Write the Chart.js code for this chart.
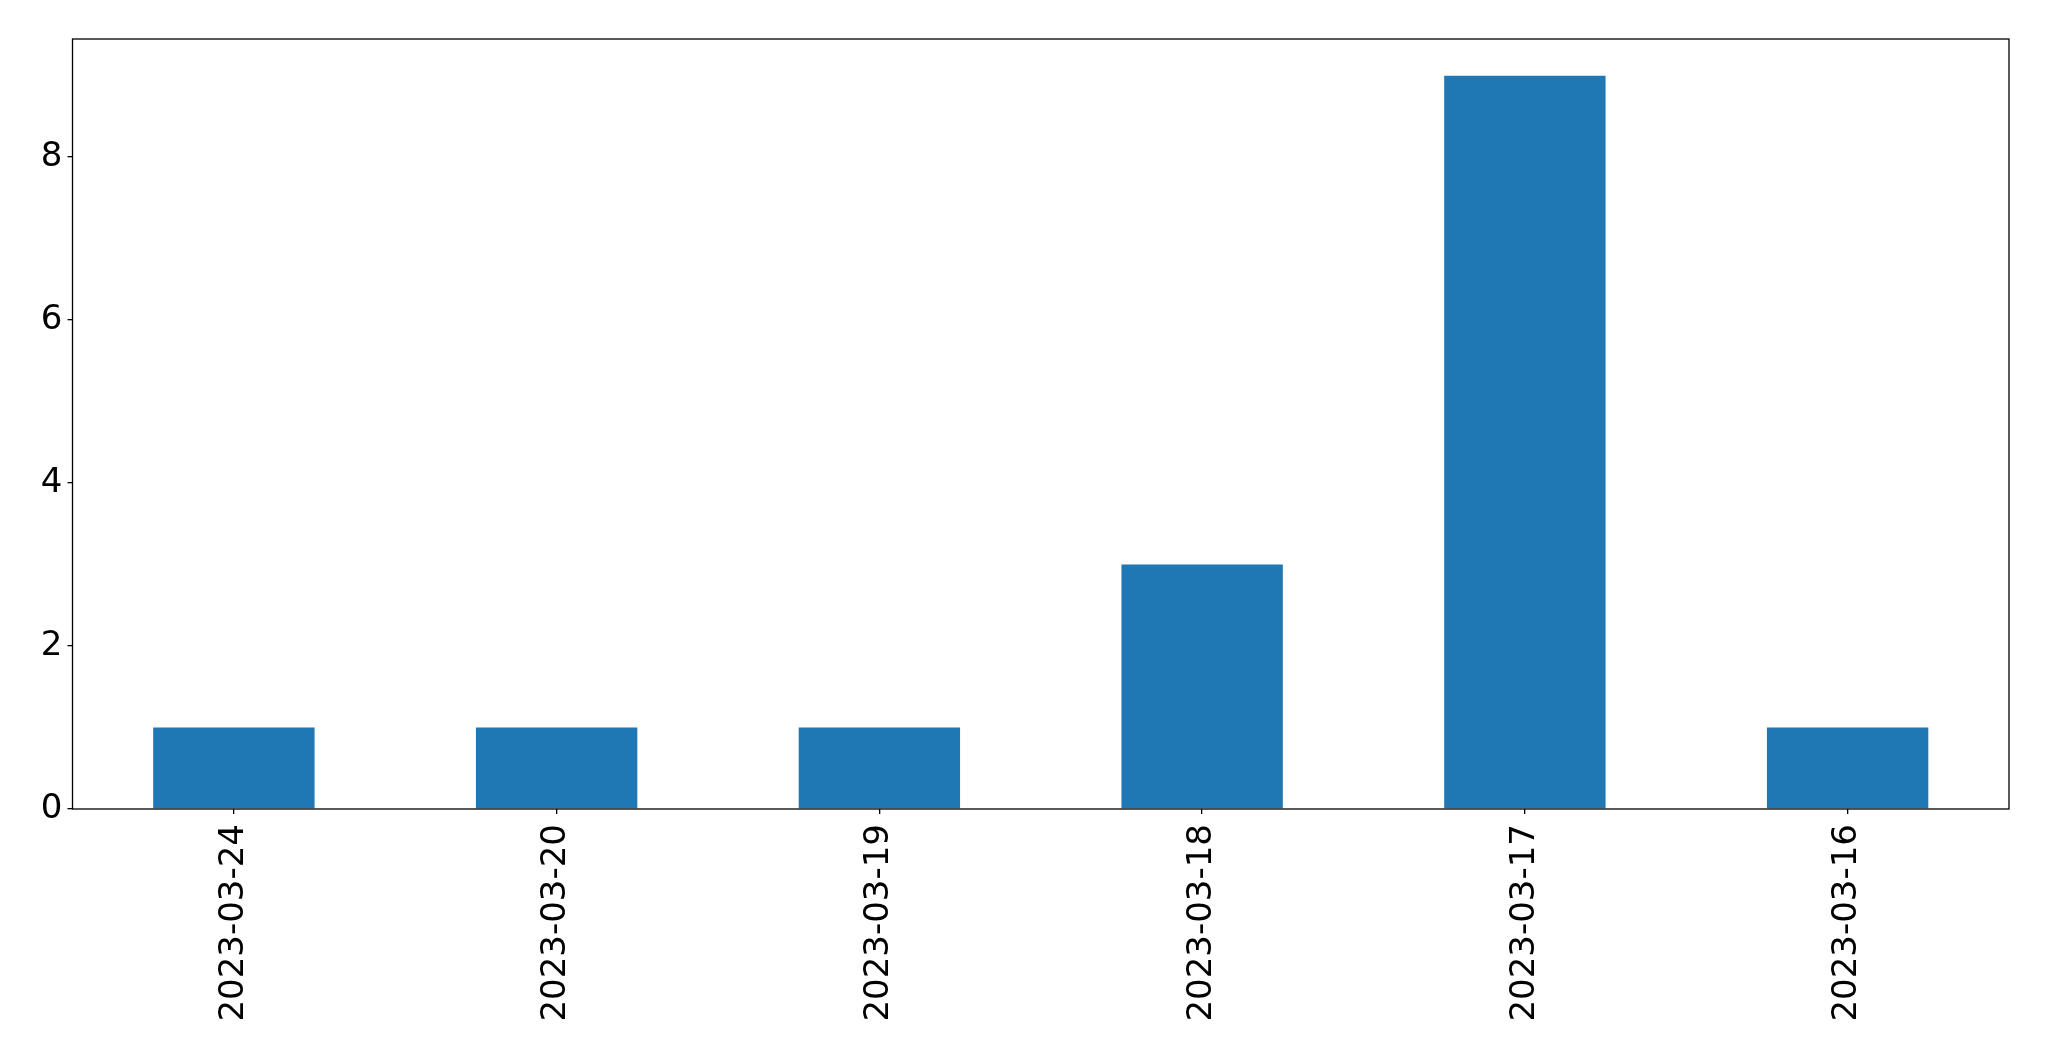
<!DOCTYPE html>
<html>
<head>
<meta charset="utf-8">
<script src="https://cdn.jsdelivr.net/npm/chart.js@4/dist/chart.umd.min.js"></script>
<style>
  html, body { margin: 0; padding: 0; background: #fff; }
  #wrap { width: 2049px; height: 1061px; }
</style>
</head>
<body>
<div id="wrap"><canvas id="chart" width="2049" height="1061"></canvas></div>
<script>
const dates = ['2023-03-24', '2023-03-20', '2023-03-19', '2023-03-18', '2023-03-17', '2023-03-16'];
const counts = [1, 1, 1, 3, 9, 1];
const yTicks = [0, 2, 4, 6, 8];

// frame around the plot area, like the matplotlib axes box
const frame = {
    id: 'frame',
    afterDraw(chart) {
        const { ctx, chartArea: a } = chart;
        ctx.save();
        ctx.strokeStyle = '#000';
        ctx.lineWidth = 1.3;
        ctx.strokeRect(a.left, a.top, a.right - a.left, a.bottom - a.top);
        ctx.restore();
    }
};

Chart.defaults.font.family = 'DejaVu Sans';
Chart.defaults.color = '#000';

new Chart(document.getElementById('chart'), {
    type: 'bar',
    data: {
        labels: dates,
        datasets: [{
            data: counts,
            backgroundColor: '#1f77b4',
            barPercentage: 0.5,
            categoryPercentage: 1
        }]
    },
    options: {
        responsive: false,
        animation: false,
        layout: { padding: { top: 39, right: 40, left: 0, bottom: 0 } },
        plugins: { legend: { display: false }, tooltip: { enabled: false } },
        scales: {
            x: {
                grid: { display: true, offset: false, drawOnChartArea: false, drawTicks: true, tickLength: 5, color: '#000', lineWidth: 1.3 },
                border: { display: false },
                ticks: { font: { size: 34 }, minRotation: 90, maxRotation: 90, padding: 10 },
                afterFit(s) { s.height = 252; }
            },
            y: {
                min: 0,
                max: 9.45,
                grid: { display: true, drawOnChartArea: false, drawTicks: true, tickLength: 5, color: '#000', lineWidth: 1.3 },
                border: { display: false },
                afterBuildTicks(s) { s.ticks = yTicks.map(v => ({ value: v })); },
                ticks: { font: { size: 34 }, padding: 5 },
                afterFit(s) { s.width = 72.5; }
            }
        }
    },
    plugins: [frame]
});
</script>
</body>
</html>
